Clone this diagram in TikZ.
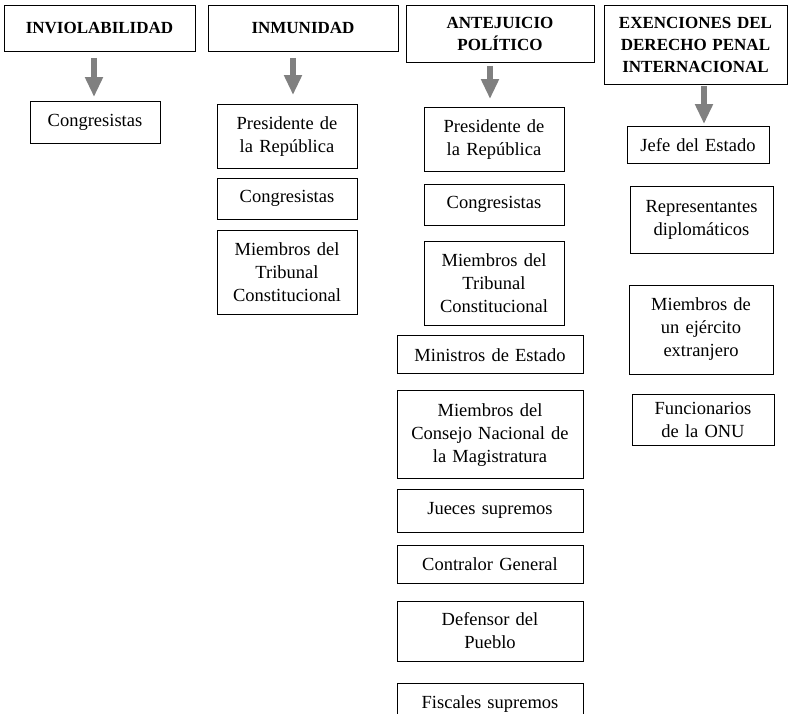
\documentclass[tikz,border=0pt]{standalone}
\usepackage{fontspec}
\setmainfont{Liberation Serif}
\usetikzlibrary{arrows.meta, positioning}
\tikzset{
  titulo/.style={draw, line width=0.8pt, anchor=north, align=center, inner xsep=5pt,
    font=\bfseries\fontsize{17}{22}\selectfont},
  caja/.style={draw, line width=0.8pt, anchor=north, align=center, inner xsep=5pt,
    font=\fontsize{18.5}{23}\selectfont},
  flecha/.style={draw=black!50, line width=5.5pt, ->}
}

\begin{document}
\begin{tikzpicture}[x=1pt, y=-1pt, >={Triangle[width=17pt,length=20pt]}]
  \useasboundingbox (0,0) rectangle (788,713);
  % cabeceras
  \node[titulo, text width=181pt, minimum height=46pt] (inviolabilidad) at (99.5,5) {INVIOLABILIDAD};
  \node[titulo, text width=180pt, minimum height=46pt] (inmunidad) at (303,5) {INMUNIDAD};
  \node[titulo, text width=178pt, minimum height=57pt] (antejuicio) at (500,5) {ANTEJUICIO\\POLÍTICO};
  \node[titulo, text width=173pt, minimum height=79pt] (exenciones) at (695.5,5) {EXENCIONES DEL\\DERECHO PENAL\\INTERNACIONAL};

  % inviolabilidad
  \node[caja, text width=120pt, minimum height=42pt] (congr1) at (95,101) {Congresistas};

  % inmunidad
  \node[caja, text width=130pt, minimum height=64pt] (presid2) at (287,104) {Presidente de\\la República};
  \node[caja, text width=130pt, minimum height=41pt, below=9pt of presid2] (congr2) {Congresistas};
  \node[caja, text width=130pt, minimum height=84pt, below=10pt of congr2] (tribu2) {Miembros del\\Tribunal\\Constitucional};

  % antejuicio politico
  \node[caja, text width=130pt, minimum height=64pt] (presid3) at (494,107) {Presidente de\\la República};
  \node[caja, text width=130pt, minimum height=41pt, below=12pt of presid3] (congr3) {Congresistas};
  \node[caja, text width=130pt, minimum height=84pt, below=15pt of congr3] (tribu3) {Miembros del\\Tribunal\\Constitucional};
  \node[caja, text width=176pt, minimum height=38pt, below=10pt of tribu3, xshift=-4pt] (minist3) {Ministros de Estado};
  \node[caja, text width=176pt, minimum height=88pt, below=16pt of minist3] (consej3) {Miembros del\\Consejo Nacional de\\la Magistratura};
  \node[caja, text width=176pt, minimum height=43pt, below=10pt of consej3] (jueces3) {Jueces supremos};
  \node[caja, text width=176pt, minimum height=38pt, below=12pt of jueces3] (contra3) {Contralor General};
  \node[caja, text width=176pt, minimum height=60pt, below=17pt of contra3] (defens3) {Defensor del\\Pueblo};
  \node[caja, text width=176pt, minimum height=40pt, below=22pt of defens3] (fiscal3) {Fiscales supremos};

  % exenciones
  \node[caja, text width=132pt, minimum height=37pt] (jefe4) at (698,126) {Jefe del Estado};
  \node[caja, text width=133pt, minimum height=67pt, below=22pt of jefe4, xshift=3.5pt] (repres4) {Representantes\\diplomáticos};
  \node[caja, text width=134pt, minimum height=89pt, below=31pt of repres4, xshift=-0.5pt] (ejerc4) {Miembros de\\un ejército\\extranjero};
  \node[caja, text width=132pt, minimum height=51pt, below=20pt of ejerc4, xshift=2pt] (funcio4) {Funcionarios\\de la ONU};

  % flechas
  \draw[flecha, shorten <=6pt, shorten >=4pt] ([xshift=-1pt]congr1.north |- inviolabilidad.south) -- ([xshift=-1pt]congr1.north);
  \draw[flecha, shorten <=6pt, shorten >=9pt] ([xshift=6pt]presid2.north |- inmunidad.south) -- ([xshift=6pt]presid2.north);
  \draw[flecha, shorten <=3pt, shorten >=8pt] ([xshift=-4pt]presid3.north |- antejuicio.south) -- ([xshift=-4pt]presid3.north);
  \draw[flecha, shorten <=1pt, shorten >=2pt] ([xshift=6pt]jefe4.north |- exenciones.south) -- ([xshift=6pt]jefe4.north);
\end{tikzpicture}
\end{document}
